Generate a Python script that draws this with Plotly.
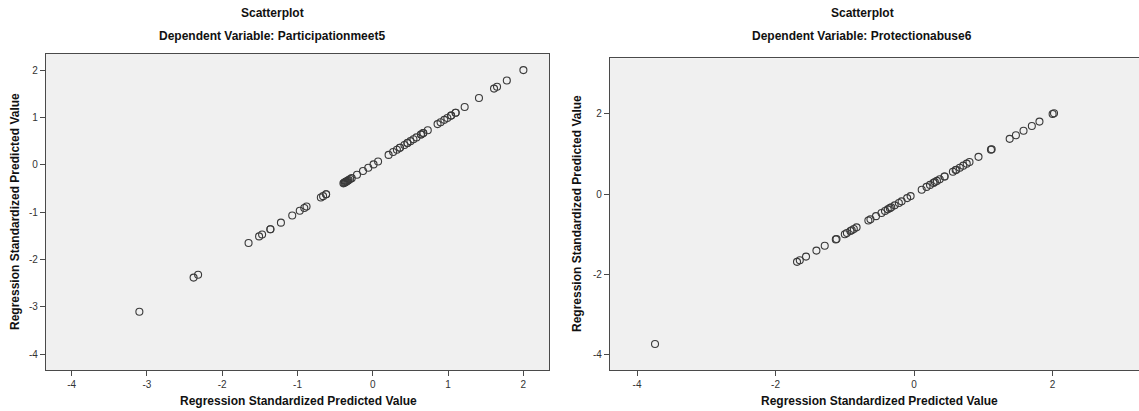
import plotly.graph_objects as go

# Standardized predicted values (x and y are the same variable)
participation_zpred = [
    -3.10, -2.38, -2.32, -1.65, -1.51, -1.47, -1.36, -1.36, -1.22, -1.07,
    -0.97, -0.91, -0.88, -0.69, -0.66, -0.62, -0.62,
    -0.39, -0.38, -0.37, -0.36, -0.35, -0.34, -0.33, -0.32, -0.30, -0.28,
    -0.21, -0.13, -0.06, 0.01, 0.07, 0.21, 0.27, 0.32, 0.36, 0.36,
    0.42, 0.46, 0.46, 0.50, 0.54, 0.58, 0.64, 0.64, 0.67, 0.67, 0.73,
    0.86, 0.90, 0.95, 0.99, 1.04, 1.04, 1.10, 1.10, 1.22, 1.41,
    1.61, 1.65, 1.78, 2.00,
]

protection_zpred = [
    -3.74, -1.69, -1.65, -1.56, -1.41, -1.29, -1.13, -1.12, -1.00, -0.97,
    -0.92, -0.90, -0.87, -0.83, -0.66, -0.63, -0.55, -0.47, -0.42, -0.38,
    -0.35, -0.33, -0.28, -0.22, -0.18, -0.10, -0.05, 0.11, 0.18, 0.23,
    0.28, 0.30, 0.33, 0.37, 0.44, 0.44, 0.56, 0.60, 0.61, 0.66, 0.71,
    0.76, 0.80, 0.93, 1.11, 1.12, 1.38, 1.47, 1.58, 1.70, 1.81, 2.00, 2.02,
]

x_ticks_left = [-4, -3, -2, -1, 0, 1, 2]
y_ticks_left = [-4, -3, -2, -1, 0, 1, 2]
x_ticks_right = [-4, -2, 0, 2]
y_ticks_right = [-4, -2, 0, 2]

FONT = "Liberation Sans, Arial, sans-serif"
AXIS_COLOR = "#4a4a4a"
MARKER_COLOR = "#3a3a3a"

fig = go.Figure()

marker = dict(symbol="circle-open", size=7, color=MARKER_COLOR,
              line=dict(width=1.1, color=MARKER_COLOR))

fig.add_trace(go.Scatter(x=participation_zpred, y=participation_zpred,
                         mode="markers", marker=marker, xaxis="x", yaxis="y",
                         showlegend=False, hoverinfo="x+y"))
fig.add_trace(go.Scatter(x=protection_zpred, y=protection_zpred,
                         mode="markers", marker=marker, xaxis="x2", yaxis="y2",
                         showlegend=False, hoverinfo="x+y"))

W, H = 1139, 411


def axis_common(tickvals):
    return dict(
        tickmode="array", tickvals=tickvals,
        ticktext=[str(v) for v in tickvals],
        ticks="outside", ticklen=5, tickwidth=1, tickcolor=AXIS_COLOR,
        tickfont=dict(family=FONT, size=10, color="#333333"),
        showgrid=False, zeroline=False,
        showline=True, linecolor=AXIS_COLOR, linewidth=1.3,
    )


xa = axis_common(x_ticks_left)
xa.update(domain=[46 / W, 549 / W], range=[-4.34, 2.34], mirror=True,
          anchor="y")
ya = axis_common(y_ticks_left)
ya.update(domain=[41 / H, 357 / H], range=[-4.33, 2.34], mirror=True,
          anchor="x")

xa2 = axis_common(x_ticks_right)
xa2.update(domain=[610 / W, 1.0], range=[-4.39, 3.247], mirror=True,
           anchor="y2")
ya2 = axis_common(y_ticks_right)
ya2.update(domain=[41 / H, 352.7 / H], range=[-4.39, 3.39], mirror=False,
           anchor="x2")

title_font = dict(family=FONT, size=12, color="#111111")
label_font = dict(family=FONT, size=12, color="#111111")


def ann(text, x, y, font, angle=0):
    return dict(text="<b>%s</b>" % text, x=x / W, y=1 - y / H,
                xref="paper", yref="paper", showarrow=False,
                xanchor="center", yanchor="middle", font=font,
                textangle=angle)


annotations = [
    ann("Scatterplot", 272, 13, title_font),
    ann("Dependent Variable: Participationmeet5", 272, 36, title_font),
    ann("Scatterplot", 862, 13, title_font),
    ann("Dependent Variable: Protectionabuse6", 862, 36, title_font),
    ann("Regression Standardized Predicted Value", 298, 401, label_font),
    ann("Regression Standardized Predicted Value", 879, 401, label_font),
    ann("Regression Standardized Predicted Value", 15, 212, label_font, -90),
    ann("Regression Standardized Predicted Value", 577, 214, label_font, -90),
]

fig.update_layout(
    width=W, height=H,
    margin=dict(l=0, r=0, t=0, b=0, pad=0),
    paper_bgcolor="white",
    plot_bgcolor="#f0f0f0",
    xaxis=xa, yaxis=ya, xaxis2=xa2, yaxis2=ya2,
    annotations=annotations,
    font=dict(family=FONT),
)

fig.write_html("out.html", config={"displayModeBar": False})
